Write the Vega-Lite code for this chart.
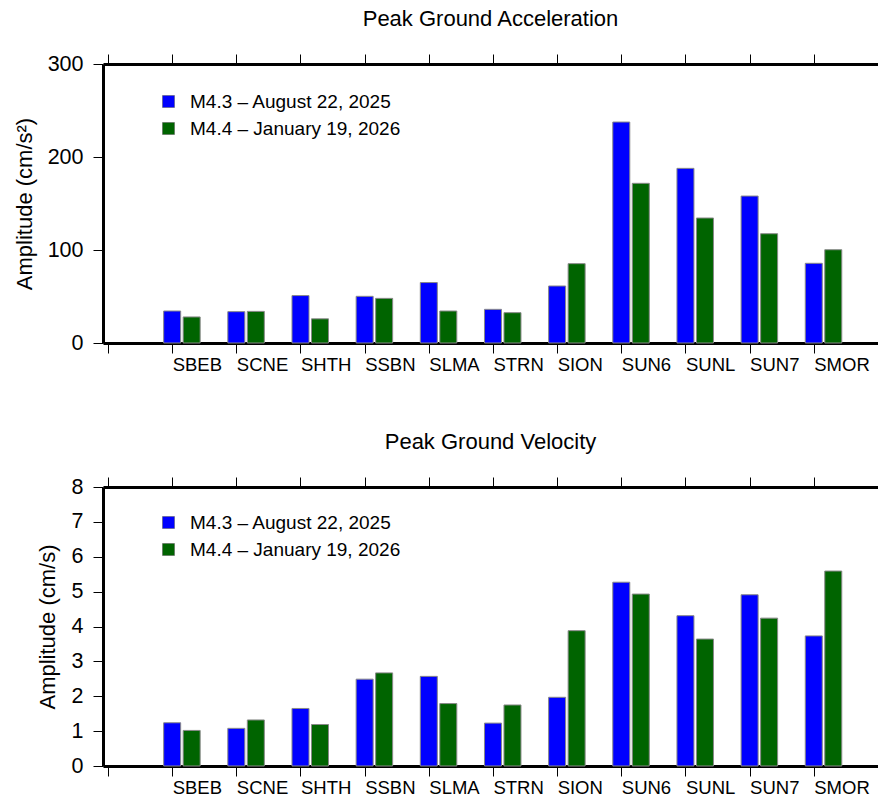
{
  "$schema": "https://vega.github.io/schema/vega-lite/v6.json",
  "padding": {"left": 13, "top": 8, "right": 0, "bottom": 0},
  "spacing": 57,
  "datasets": {
    "d": [
      {"station": "SBEB", "i": 1, "event": "M4.3 – August 22, 2025", "pga": 34.4, "pgv": 1.24},
      {"station": "SBEB", "i": 1, "event": "M4.4 – January 19, 2026", "pga": 28, "pgv": 1.02},
      {"station": "SCNE", "i": 2, "event": "M4.3 – August 22, 2025", "pga": 33.7, "pgv": 1.08},
      {"station": "SCNE", "i": 2, "event": "M4.4 – January 19, 2026", "pga": 34, "pgv": 1.32},
      {"station": "SHTH", "i": 3, "event": "M4.3 – August 22, 2025", "pga": 51, "pgv": 1.65},
      {"station": "SHTH", "i": 3, "event": "M4.4 – January 19, 2026", "pga": 26, "pgv": 1.19},
      {"station": "SSBN", "i": 4, "event": "M4.3 – August 22, 2025", "pga": 50.2, "pgv": 2.49},
      {"station": "SSBN", "i": 4, "event": "M4.4 – January 19, 2026", "pga": 48, "pgv": 2.67},
      {"station": "SLMA", "i": 5, "event": "M4.3 – August 22, 2025", "pga": 65, "pgv": 2.57},
      {"station": "SLMA", "i": 5, "event": "M4.4 – January 19, 2026", "pga": 34.4, "pgv": 1.79},
      {"station": "STRN", "i": 6, "event": "M4.3 – August 22, 2025", "pga": 36.2, "pgv": 1.23},
      {"station": "STRN", "i": 6, "event": "M4.4 – January 19, 2026", "pga": 32.6, "pgv": 1.75},
      {"station": "SION", "i": 7, "event": "M4.3 – August 22, 2025", "pga": 61.3, "pgv": 1.97},
      {"station": "SION", "i": 7, "event": "M4.4 – January 19, 2026", "pga": 85.3, "pgv": 3.88},
      {"station": "SUN6", "i": 8, "event": "M4.3 – August 22, 2025", "pga": 237.6, "pgv": 5.27},
      {"station": "SUN6", "i": 8, "event": "M4.4 – January 19, 2026", "pga": 171.7, "pgv": 4.93},
      {"station": "SUNL", "i": 9, "event": "M4.3 – August 22, 2025", "pga": 187.8, "pgv": 4.31},
      {"station": "SUNL", "i": 9, "event": "M4.4 – January 19, 2026", "pga": 134.4, "pgv": 3.64},
      {"station": "SUN7", "i": 10, "event": "M4.3 – August 22, 2025", "pga": 158, "pgv": 4.91},
      {"station": "SUN7", "i": 10, "event": "M4.4 – January 19, 2026", "pga": 117.5, "pgv": 4.24},
      {"station": "SMOR", "i": 11, "event": "M4.3 – August 22, 2025", "pga": 85.7, "pgv": 3.73},
      {"station": "SMOR", "i": 11, "event": "M4.4 – January 19, 2026", "pga": 100.3, "pgv": 5.59}
    ]
  },
  "resolve": {"scale": {"color": "independent"}, "legend": {"color": "independent"}},
  "config": {
    "view": {"stroke": null},
    "font": "Liberation Sans",
    "axis": {
      "grid": false,
      "domainColor": "black",
      "domainWidth": 3,
      "tickColor": "black",
      "tickWidth": 1,
      "tickSize": 10,
      "labelColor": "black",
      "titleColor": "black",
      "labelFont": "Liberation Sans",
      "titleFont": "Liberation Sans",
      "titleFontWeight": "normal"
    },
    "title": {"font": "Liberation Sans", "fontSize": 22, "fontWeight": "normal", "anchor": "middle", "offset": 22, "color": "black"},
    "legend": {
      "orient": "none",
      "title": null,
      "symbolType": "square",
      "symbolSize": 144,
      "symbolStrokeColor": "#555",
      "symbolStrokeWidth": 0.5,
      "symbolOpacity": 1,
      "labelFont": "Liberation Sans",
      "labelFontSize": 19,
      "labelColor": "black",
      "labelOffset": 12,
      "rowPadding": 7,
      "labelLimit": 400
    }
  },
  "vconcat": [
    {
      "title": {"text": "Peak Ground Acceleration"},
      "width": 775,
      "height": 279,
      "data": {"name": "d"},
      "resolve": {"axis": {"x": "independent"}},
      "encoding": {
        "y": {
          "field": "pga", "type": "quantitative",
          "scale": {"domain": [0, 300], "nice": false},
          "axis": {"values": [0, 100, 200, 300], "labelFontSize": 21.5, "labelPadding": 10, "title": "Amplitude  (cm/s²)", "titleFontSize": 22, "titlePadding": 11}
        },
        "color": {
          "field": "event", "type": "nominal",
          "scale": {"domain": ["M4.3 – August 22, 2025", "M4.4 – January 19, 2026"], "range": ["#0000ff", "#006400"]},
          "legend": {"legendX": 56, "legendY": 28}
        }
      },
      "layer": [
        {
          "transform": [{"filter": "datum.event == 'M4.3 – August 22, 2025'"}],
          "mark": {"type": "bar", "size": 17, "stroke": "#888", "strokeWidth": 1},
          "encoding": {
            "x": {
              "field": "i", "type": "quantitative",
              "scale": {"domain": [0, 11.923], "nice": false, "zero": false},
              "axis": {"orient": "bottom", "values": [0,1,2,3,4,5,6,7,8,9,10,11], "title": null, "labelAlign": "left", "labelBaseline": "top", "labelPadding": 2, "labelFontSize": 18.5,
                "labelExpr": "['', 'SBEB', 'SCNE', 'SHTH', 'SSBN', 'SLMA', 'STRN', 'SION', 'SUN6', 'SUNL', 'SUN7', 'SMOR', ''][datum.value]"}
            }
          }
        },
        {
          "transform": [{"filter": "datum.event == 'M4.4 – January 19, 2026'"}],
          "mark": {"type": "bar", "size": 17, "xOffset": 19.5, "stroke": "#888", "strokeWidth": 1},
          "encoding": {
            "x": {
              "field": "i", "type": "quantitative",
              "scale": {"domain": [0, 11.923], "nice": false, "zero": false},
              "axis": {"orient": "top", "values": [0,1,2,3,4,5,6,7,8,9,10,11], "title": null, "labels": false}
            }
          }
        }
      ]
    },
    {
      "title": {"text": "Peak Ground Velocity"},
      "width": 775,
      "height": 279,
      "data": {"name": "d"},
      "resolve": {"axis": {"x": "independent"}},
      "encoding": {
        "y": {
          "field": "pgv", "type": "quantitative",
          "scale": {"domain": [0, 8], "nice": false},
          "axis": {"values": [0, 1, 2, 3, 4, 5, 6, 7, 8], "labelFontSize": 21.5, "labelPadding": 10, "title": "Amplitude (cm/s)", "titleFontSize": 22, "titlePadding": 12}
        },
        "color": {
          "field": "event", "type": "nominal",
          "scale": {"domain": ["M4.3 – August 22, 2025", "M4.4 – January 19, 2026"], "range": ["#0000ff", "#006400"]},
          "legend": {"legendX": 56, "legendY": 26}
        }
      },
      "layer": [
        {
          "transform": [{"filter": "datum.event == 'M4.3 – August 22, 2025'"}],
          "mark": {"type": "bar", "size": 17, "stroke": "#888", "strokeWidth": 1},
          "encoding": {
            "x": {
              "field": "i", "type": "quantitative",
              "scale": {"domain": [0, 11.923], "nice": false, "zero": false},
              "axis": {"orient": "bottom", "values": [0,1,2,3,4,5,6,7,8,9,10,11], "title": null, "labelAlign": "left", "labelBaseline": "top", "labelPadding": 2, "labelFontSize": 18.5,
                "labelExpr": "['', 'SBEB', 'SCNE', 'SHTH', 'SSBN', 'SLMA', 'STRN', 'SION', 'SUN6', 'SUNL', 'SUN7', 'SMOR', ''][datum.value]"}
            }
          }
        },
        {
          "transform": [{"filter": "datum.event == 'M4.4 – January 19, 2026'"}],
          "mark": {"type": "bar", "size": 17, "xOffset": 19.5, "stroke": "#888", "strokeWidth": 1},
          "encoding": {
            "x": {
              "field": "i", "type": "quantitative",
              "scale": {"domain": [0, 11.923], "nice": false, "zero": false},
              "axis": {"orient": "top", "values": [0,1,2,3,4,5,6,7,8,9,10,11], "title": null, "labels": false}
            }
          }
        }
      ]
    }
  ]
}
